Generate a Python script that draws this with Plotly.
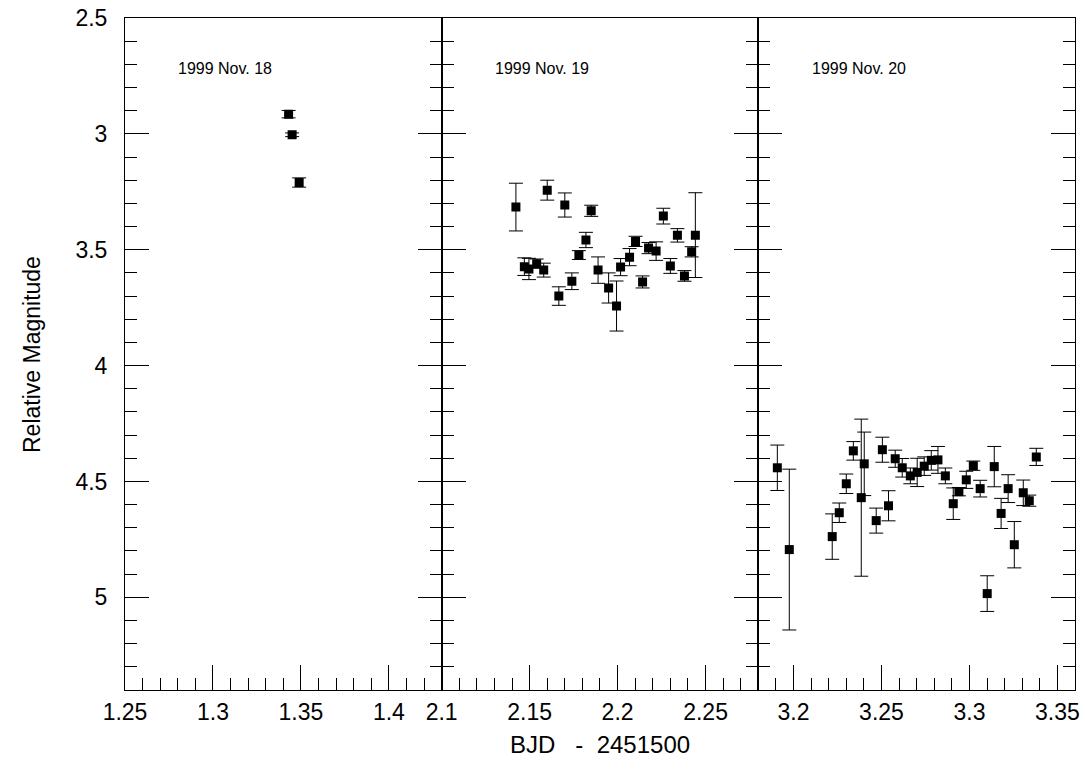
import plotly.graph_objects as go

# ---- data ----
nov18_bjd = [1.343, 1.345, 1.349]
nov18_mag = [2.915, 3.004, 3.210]
nov18_err = [0.016, 0.008, 0.020]

nov19_bjd = [2.1422, 2.1470, 2.1496, 2.1540, 2.1580, 2.1600, 2.1666, 2.1700, 2.1740,
             2.1780, 2.1820, 2.1850, 2.1889, 2.1949, 2.1994, 2.2017, 2.2068, 2.2102,
             2.2142, 2.2176, 2.2219, 2.2260, 2.2300, 2.2340, 2.2380, 2.2421, 2.2442]
nov19_mag = [3.316, 3.573, 3.583, 3.560, 3.588, 3.243, 3.700, 3.307, 3.636,
             3.523, 3.458, 3.332, 3.588, 3.665, 3.743, 3.575, 3.532, 3.464,
             3.639, 3.493, 3.506, 3.355, 3.570, 3.438, 3.613, 3.509, 3.437]
nov19_err = [0.103, 0.038, 0.046, 0.020, 0.030, 0.043, 0.040, 0.052, 0.036,
             0.019, 0.033, 0.024, 0.057, 0.065, 0.108, 0.037, 0.037, 0.022,
             0.026, 0.024, 0.040, 0.034, 0.032, 0.029, 0.023, 0.022, 0.183]

nov20_bjd = [3.1908, 3.1976, 3.2220, 3.2260, 3.2300, 3.2340, 3.2385, 3.2402, 3.2470,
             3.2505, 3.2540, 3.2578, 3.2618, 3.2664, 3.2703, 3.2743, 3.2783, 3.2821,
             3.2863, 3.2908, 3.2940, 3.2982, 3.3022, 3.3061, 3.3101, 3.3141, 3.3180,
             3.3220, 3.3255, 3.3306, 3.3340, 3.3380]
nov20_mag = [4.441, 4.794, 4.738, 4.635, 4.510, 4.368, 4.570, 4.424, 4.669,
             4.363, 4.605, 4.402, 4.441, 4.476, 4.461, 4.434, 4.409, 4.407,
             4.476, 4.596, 4.544, 4.493, 4.432, 4.531, 4.984, 4.436, 4.638,
             4.531, 4.773, 4.549, 4.583, 4.394]
nov20_err = [0.098, 0.347, 0.098, 0.042, 0.042, 0.040, 0.339, 0.137, 0.054,
             0.054, 0.065, 0.037, 0.040, 0.034, 0.061, 0.040, 0.042, 0.058,
             0.034, 0.068, 0.018, 0.037, 0.020, 0.036, 0.077, 0.087, 0.065,
             0.060, 0.100, 0.055, 0.024, 0.037]

panel_labels = ["1999 Nov. 18", "1999 Nov. 19", "1999 Nov. 20"]
panel_label_x = [1.307, 2.157, 3.237]
x_ranges = [[1.25, 1.43], [2.10, 2.28], [3.18, 3.36]]
y_range = [5.4, 2.5]
x_title = "BJD&nbsp;&nbsp;&nbsp;-&nbsp;&nbsp;2451500"
y_title = "Relative Magnitude"

FONT = "Liberation Sans, Arial, sans-serif"

fig = go.Figure()
series = [(nov18_bjd, nov18_mag, nov18_err),
          (nov19_bjd, nov19_mag, nov19_err),
          (nov20_bjd, nov20_mag, nov20_err)]
for i, (bx, by, be) in enumerate(series):
    sfx = "" if i == 0 else str(i + 1)
    fig.add_trace(go.Scatter(
        x=bx, y=by, mode="markers",
        marker=dict(symbol="square", size=9, color="black"),
        error_y=dict(type="data", array=be, visible=True, color="black",
                     thickness=1, width=7),
        xaxis="x" + sfx, yaxis="y" + sfx, showlegend=False))

domains = [[0, 1 / 3], [1 / 3, 2 / 3], [2 / 3, 1]]
for i in range(3):
    sfx = "" if i == 0 else str(i + 1)
    fig.update_layout(**{
        "xaxis" + sfx: dict(
            domain=domains[i], range=x_ranges[i], anchor="y" + sfx,
            showgrid=False, zeroline=False, showline=True, linecolor="black",
            linewidth=1, mirror=True, ticks="inside", ticklen=25, tickwidth=1,
            tickcolor="black", dtick=0.05, tick0=0,
            minor=dict(dtick=0.01, tick0=0, ticks="inside", ticklen=12,
                       tickwidth=1, tickcolor="black", showgrid=False),
            tickfont=dict(family=FONT, size=23, color="black"),
            ticklabelstandoff=1, ticklabeloverflow="allow", automargin=False),
        "yaxis" + sfx: dict(
            domain=[0, 1], range=y_range, anchor="x" + sfx,
            showgrid=False, zeroline=False, showline=True, linecolor="black",
            linewidth=1, mirror="ticks", ticks="inside", ticklen=24, tickwidth=1,
            tickcolor="black", dtick=0.5, tick0=0,
            minor=dict(dtick=0.1, tick0=0, ticks="inside", ticklen=12,
                       tickwidth=1, tickcolor="black", showgrid=False),
            showticklabels=(i == 0),
            tickfont=dict(family=FONT, size=23, color="black"),
            ticklabelstandoff=12, ticklabeloverflow="allow", automargin=False),
    })
    fig.add_annotation(x=panel_label_x[i], y=2.72, xref="x" + sfx, yref="y" + sfx,
                       text=panel_labels[i], showarrow=False,
                       font=dict(family=FONT, size=16, color="black"))

fig.add_annotation(x=0.5, y=-0.0818, xref="paper", yref="paper", text=x_title,
                   showarrow=False, xanchor="center", yanchor="middle",
                   font=dict(family=FONT, size=24, color="black"))
fig.add_annotation(x=-0.0979, y=0.5, xref="paper", yref="paper", text=y_title,
                   showarrow=False, xanchor="center", yanchor="middle", textangle=-90,
                   font=dict(family=FONT, size=23, color="black"))

fig.update_layout(width=1085, height=774,
                  margin=dict(l=125, r=10, t=18, b=84),
                  paper_bgcolor="white", plot_bgcolor="white")

# remove the default page margin so the figure fills the window exactly
fig.write_html("out.html", config={"displayModeBar": False},
               post_script="document.body.style.margin='0';")
